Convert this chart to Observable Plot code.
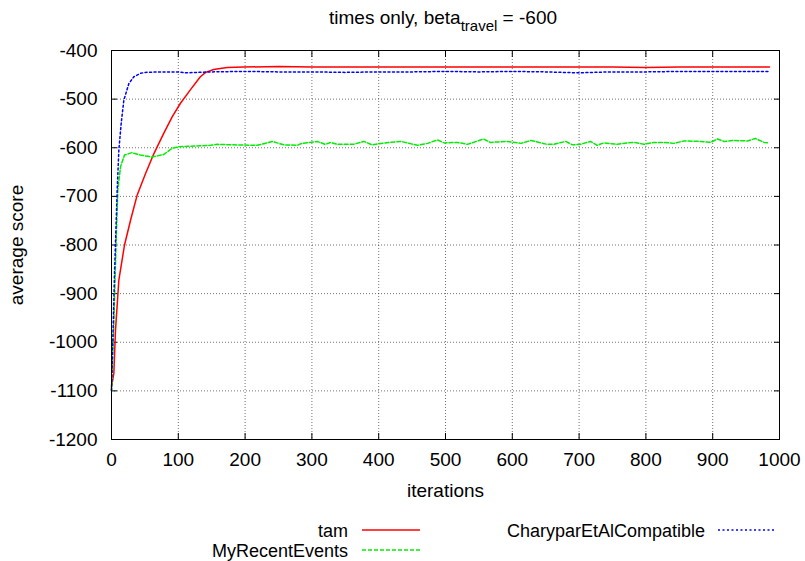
<!DOCTYPE html>
<html>
<head>
<meta charset="utf-8">
<script src="https://cdn.jsdelivr.net/npm/d3@7"></script>
<script src="https://cdn.jsdelivr.net/npm/@observablehq/plot@0.6"></script>
<style>
  html, body { margin: 0; padding: 0; background: #fff; }
  #chart svg { display: block; }
</style>
</head>
<body>
<div id="chart"></div>
<script>
// ---- data ----
const xTicks = [0, 100, 200, 300, 400, 500, 600, 700, 800, 900, 1000];
const yTicks = [-1200, -1100, -1000, -900, -800, -700, -600, -500, -400];

const tamIter  = [0, 3.5, 6, 11, 19.5, 28.5, 38.5, 51, 63.5, 78, 91, 103, 118, 133, 141, 153, 173, 198, 250, 300, 350, 400, 450, 500, 550, 600, 650, 700, 750, 800, 850, 900, 950, 985];
const tamScore = [-1092, -1064, -975, -872, -800, -749, -697, -653, -612, -571, -536, -509, -481, -454, -445, -439, -435, -434, -433, -434, -434, -434, -434, -434, -434, -434, -434, -434, -434, -435, -434, -434, -434, -434];

const mreIter  = [0, 3.5, 7, 9.5, 13.5, 19.5, 30.5, 43, 60.5, 78, 91, 101, 133, 148, 158, 183, 218, 241, 258, 278, 285, 308, 320, 328, 338, 362, 378, 390, 415, 433, 443, 458, 473, 488, 498, 518, 533, 557, 567, 592, 613, 628, 652, 662, 680, 690, 702, 717, 727, 737, 757, 772, 784, 797, 812, 827, 842, 857, 882, 897, 907, 917, 932, 952, 964, 977, 985];
const mreScore = [-1099, -961, -790, -687, -639, -615, -610, -615, -619, -614, -601, -598, -596, -595, -593, -594, -595, -587, -594, -595, -591, -587, -593, -589, -593, -593, -587, -594, -589, -587, -590, -595, -591, -584, -590, -589, -593, -582, -589, -587, -591, -585, -593, -593, -587, -594, -593, -587, -595, -590, -593, -590, -589, -593, -589, -589, -591, -586, -587, -589, -582, -587, -585, -586, -581, -589, -590];

const ceaIter  = [0, 2, 4.5, 8.5, 11, 14.5, 18.5, 26, 33.5, 43.5, 50, 75, 100, 110, 130, 150, 200, 250, 300, 350, 400, 450, 500, 550, 600, 650, 700, 720, 750, 800, 850, 900, 950, 985];
const ceaScore = [-1099, -996, -859, -687, -605, -550, -502, -468, -454, -447, -445, -444, -444, -446, -445, -444, -443, -444, -444, -445, -444, -444, -443, -444, -443, -444, -446, -445, -444, -444, -443, -443, -443, -443];

const seriesNames = ["tam", "MyRecentEvents", "CharyparEtAlCompatible"];
const seriesColors = ["#ff0000", "#00ee00", "#0000ff"];
const seriesDash = [null, "4,2", "2,2.5"];

const toRows = (xs, ys, name) => xs.map((x, i) => ({iter: x, score: ys[i], series: name}));
const tam = toRows(tamIter, tamScore, seriesNames[0]);
const mre = toRows(mreIter, mreScore, seriesNames[1]);
const cea = toRows(ceaIter, ceaScore, seriesNames[2]);

const font = "'Liberation Sans', Arial, Helvetica, sans-serif";
const W = 805, H = 561;
const fmt = d => String(d);

const chart = Plot.plot({
  width: W,
  height: H,
  marginLeft: 111,
  marginRight: 26,
  marginTop: 50,
  marginBottom: 122,
  style: {fontFamily: font, fontSize: "19px", color: "#000", background: "#fff"},
  x: {domain: [0, 1000], ticks: xTicks},
  y: {domain: [-1200, -400], ticks: yTicks},
  marks: [
    Plot.gridX(xTicks, {stroke: "#000", strokeOpacity: 0.55, strokeDasharray: "1,2"}),
    Plot.gridY(yTicks, {stroke: "#000", strokeOpacity: 0.55, strokeDasharray: "1,2"}),
    // inward ticks on all four sides
    Plot.axisX(xTicks, {anchor: "bottom", tickSize: -6, tickFormat: () => "", label: null}),
    Plot.axisX(xTicks, {anchor: "top", tickSize: -6, tickFormat: () => "", label: null}),
    Plot.axisY(yTicks, {anchor: "left", tickSize: -6, tickFormat: () => "", label: null}),
    Plot.axisY(yTicks, {anchor: "right", tickSize: -6, tickFormat: () => "", label: null}),
    // tick labels
    Plot.axisX(xTicks, {anchor: "bottom", tickSize: 0, tickPadding: 13, tickFormat: fmt, label: "iterations", labelAnchor: "center", labelArrow: "none", labelOffset: 57, fontSize: 19}),
    Plot.axisY(yTicks, {anchor: "left", tickSize: 0, tickPadding: 14, tickFormat: fmt, label: "average score", labelAnchor: "center", labelArrow: "none", labelOffset: 102, fontSize: 19}),
    Plot.line(tam, {x: "iter", y: "score", stroke: seriesColors[0], strokeWidth: 1.5}),
    Plot.line(mre, {x: "iter", y: "score", stroke: seriesColors[1], strokeWidth: 1.5, strokeDasharray: seriesDash[1]}),
    Plot.line(cea, {x: "iter", y: "score", stroke: seriesColors[2], strokeWidth: 1.5, strokeDasharray: seriesDash[2]}),
    Plot.frame({stroke: "#000", strokeWidth: 1})
  ]
});

document.getElementById("chart").appendChild(chart);

// ---- title and legend added into the SVG ----
const svg = d3.select(chart);
const title = svg.append("text")
  .attr("x", 443).attr("y", 24)
  .attr("text-anchor", "middle")
  .style("font-family", font).style("font-size", "19px").attr("fill", "#000");
title.append("tspan").text("times only, beta");
title.append("tspan").attr("dy", 7).style("font-size", "15px").text("travel");
title.append("tspan").attr("dy", -7).text(" = -600");

const legendItems = [
  {name: seriesNames[0], tx: 348, y: 530, x1: 362, x2: 420, color: seriesColors[0], dash: seriesDash[0]},
  {name: seriesNames[1], tx: 348, y: 550, x1: 362, x2: 420, color: seriesColors[1], dash: seriesDash[1]},
  {name: seriesNames[2], tx: 705, y: 530, x1: 718, x2: 776, color: seriesColors[2], dash: seriesDash[2]}
];
const lg = svg.append("g");
legendItems.forEach(d => {
  lg.append("text").attr("x", d.tx).attr("y", d.y + 6.5).attr("text-anchor", "end")
    .style("font-family", font).style("font-size", "18px").attr("fill", "#000").text(d.name);
  lg.append("line").attr("x1", d.x1).attr("x2", d.x2).attr("y1", d.y).attr("y2", d.y)
    .attr("stroke", d.color).attr("stroke-width", 1.5)
    .attr("stroke-dasharray", d.dash);
});
</script>
</body>
</html>
